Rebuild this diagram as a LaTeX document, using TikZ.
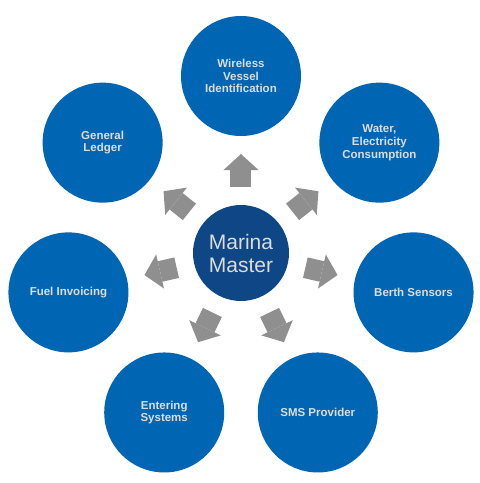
\documentclass[tikz,border=0pt]{standalone}
\usepackage{fontspec}
\setmainfont{Liberation Sans}
\usepackage{tikz}
\usetikzlibrary{arrows.meta,calc}

\definecolor{hubblue}{HTML}{0E4686}
\definecolor{satblue}{HTML}{0066B3}
\definecolor{labelgray}{HTML}{DCDCDC}
\definecolor{arrowgray}{HTML}{8F8F8F}

\begin{document}
\begin{tikzpicture}[x=1pt, y=1pt,
		hub/.style = {circle, fill=hubblue, minimum size=96pt, inner sep=0pt, align=center,
			text=labelgray, font=\fontsize{21}{23}\selectfont},
		sat/.style = {circle, fill=satblue, minimum size=120pt, inner sep=0pt, align=center,
			text=labelgray, font=\fontsize{11.5}{12.7}\selectfont\bfseries},
		blockarrow/.style = {draw=arrowgray, line width=21pt,
			-{Triangle[width=35pt, length=16pt, line width=0pt]}}
		]
		\useasboundingbox (-241,-230) rectangle (239,253);
		
		\node (master)   [hub]                      {Marina\\Master};
		\node (wireless) [sat] at (90:177)          {Wireless\\Vessel\\Identification};
		\node (water)    [sat] at (38.57:177)       {Water,\\Electricity\\Consumption};
		\node (berth)    [sat] at (-12.86:177)      {Berth Sensors};
		\node (sms)      [sat] at (-64.29:177)      {SMS Provider};
		\node (entering) [sat] at (-115.71:177)     {Entering\\Systems};
		\node (fuel)     [sat] at (-167.14:177)     {Fuel Invoicing};
		\node (ledger)   [sat] at (141.43:177)      {General\\Ledger};
		
		\draw[blockarrow] ($(master)!66pt!(wireless)$) -- ($(master)!99pt!(wireless)$);
		\draw[blockarrow] ($(master)!66pt!(water)$)    -- ($(master)!99pt!(water)$);
		\draw[blockarrow] ($(master)!66pt!(berth)$)    -- ($(master)!99pt!(berth)$);
		\draw[blockarrow] ($(master)!66pt!(sms)$)      -- ($(master)!99pt!(sms)$);
		\draw[blockarrow] ($(master)!66pt!(entering)$) -- ($(master)!99pt!(entering)$);
		\draw[blockarrow] ($(master)!66pt!(fuel)$)     -- ($(master)!99pt!(fuel)$);
		\draw[blockarrow] ($(master)!66pt!(ledger)$)   -- ($(master)!99pt!(ledger)$);
		
\end{tikzpicture}
\end{document}
